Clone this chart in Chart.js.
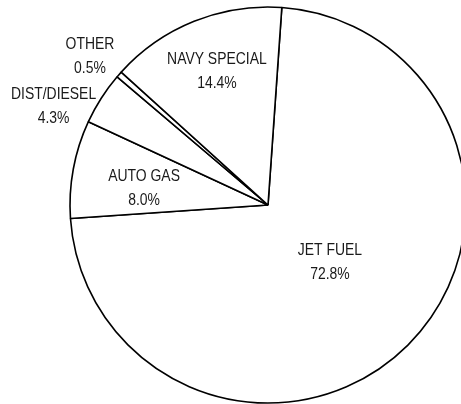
<!DOCTYPE html>
<html>
<head>
<meta charset="utf-8">
<script src="https://cdn.jsdelivr.net/npm/chart.js@4/dist/chart.umd.min.js"></script>
<style>
  html, body { margin: 0; padding: 0; background: #fff; overflow: hidden; width: 461px; height: 404px; }
  #wrap { position: absolute; left: 0; top: 0; width: 536px; height: 404px; }
</style>
</head>
<body>
<div id="wrap"><canvas id="c" width="536" height="404"></canvas></div>
<script>
// Data
const categories = ['JET FUEL', 'AUTO GAS', 'DIST/DIESEL', 'OTHER', 'NAVY SPECIAL'];
const shares = [72.8, 8.0, 4.3, 0.5, 14.4];
const shareLabels = ['72.8%', '8.0%', '4.3%', '0.5%', '14.4%'];

// Label placement (fraction of radius, relative to pie centre)
const labelAnchors = [[0.313, 0.288], [-0.626, -0.086], [-1.083, -0.50], [-0.899, -0.753], [-0.258, -0.674]];

function pickFont(ctx) {
  ctx.font = '17px monospace';
  const base = ctx.measureText('NAVY SPECIAL abc').width;
  ctx.font = '17px "Liberation Sans Narrow", monospace';
  const narrow = ctx.measureText('NAVY SPECIAL abc').width;
  if (Math.abs(narrow - base) > 0.5) return { font: '17px "Liberation Sans Narrow", "Arial Narrow", sans-serif', sx: 1 };
  return { font: '17px "Liberation Sans", Arial, sans-serif', sx: 0.82 };
}

const labelPlugin = {
  id: 'pieLabels',
  afterDatasetsDraw(chart) {
    const ctx = chart.ctx;
    const meta = chart.getDatasetMeta(0);
    const f = pickFont(ctx);
    ctx.save();
    ctx.fillStyle = '#1a1a1a';
    ctx.textAlign = 'center';
    ctx.textBaseline = 'middle';
    ctx.font = f.font;
    meta.data.forEach((arc, i) => {
      const r = arc.outerRadius;
      const x = arc.x + labelAnchors[i][0] * r;
      const y = arc.y + labelAnchors[i][1] * r;
      ctx.save();
      ctx.translate(x, y);
      ctx.scale(f.sx, 1);
      ctx.fillText(categories[i], 0, -12);
      ctx.fillText(shareLabels[i], 0, 12);
      ctx.restore();
    });
    ctx.restore();
  }
};

new Chart(document.getElementById('c'), {
  type: 'pie',
  data: {
    labels: categories,
    datasets: [{
      data: shares,
      backgroundColor: '#ffffff',
      borderColor: '#000000',
      borderWidth: 1.6,
      borderAlign: 'center'
    }]
  },
  options: {
    responsive: false,
    animation: false,
    devicePixelRatio: 1,
    rotation: 4,
    radius: 198,
    layout: { padding: { top: 6, bottom: 0, left: 0, right: 0 } },
    plugins: {
      legend: { display: false },
      tooltip: { enabled: false }
    }
  },
  plugins: [labelPlugin]
});
</script>
</body>
</html>
